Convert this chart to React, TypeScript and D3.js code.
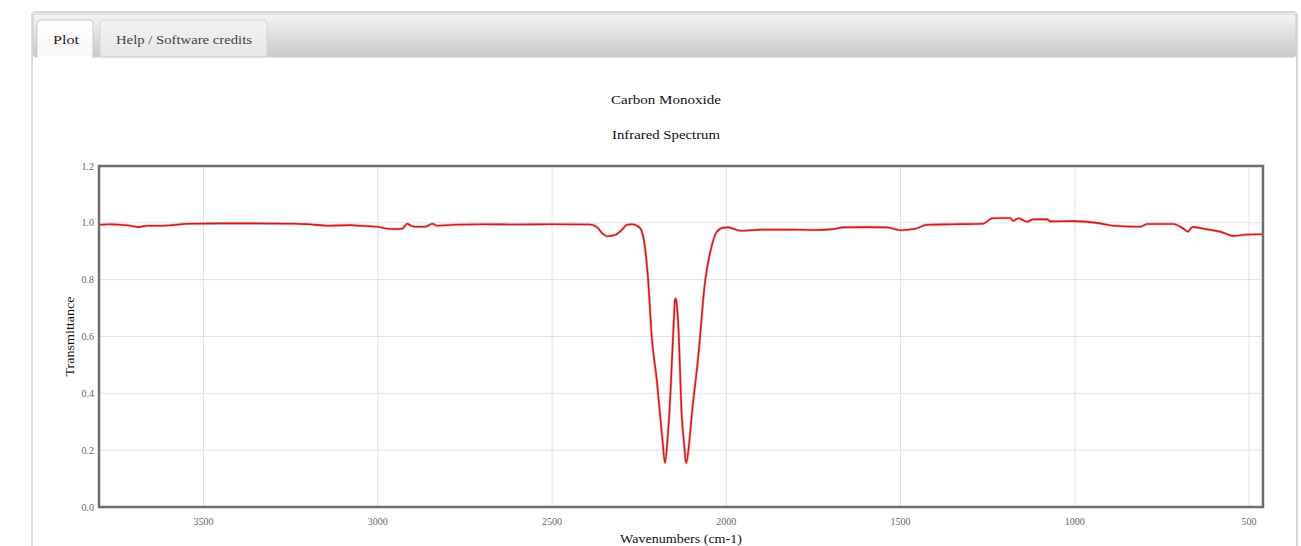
import React from "react";
import * as d3 from "d3";

const wavenumbers = [
  3800, 3770, 3740, 3710, 3688, 3660, 3625, 3590, 3545, 3450, 3350, 3237, 3200, 3143, 3080, 3051, 3000,
  2971, 2950, 2930, 2916, 2905, 2893, 2864, 2844, 2830, 2784, 2700, 2600, 2500, 2391, 2371, 2355, 2342,
  2320, 2300, 2285, 2270, 2250, 2240, 2233, 2224, 2214, 2199, 2190, 2182, 2176, 2168, 2161, 2152, 2147,
  2145, 2141, 2137, 2128, 2121, 2115, 2107, 2099, 2080, 2061, 2046, 2027, 2008, 1994, 1960, 1900, 1817,
  1750, 1693, 1665, 1600, 1538, 1501, 1458, 1424, 1350, 1263, 1237, 1200, 1185, 1177, 1162, 1137, 1119,
  1079, 1071, 1005, 927, 890, 812, 792, 718, 689, 675, 663, 620, 583, 545, 505, 460,
];
const transmittance = [
  0.993, 0.995, 0.993, 0.99, 0.985, 0.99, 0.99, 0.992, 0.997, 0.998, 0.998, 0.997, 0.995, 0.99, 0.992, 0.99, 0.986,
  0.979, 0.978, 0.979, 0.997, 0.99, 0.986, 0.986, 0.997, 0.99, 0.993, 0.995, 0.994, 0.995, 0.994, 0.985, 0.962, 0.953,
  0.957, 0.975, 0.993, 0.995, 0.985, 0.96, 0.911, 0.793, 0.6, 0.441, 0.324, 0.22, 0.155, 0.25, 0.383, 0.62, 0.728,
  0.734, 0.7, 0.62, 0.324, 0.22, 0.154, 0.22, 0.324, 0.535, 0.793, 0.898, 0.969, 0.983, 0.984, 0.972, 0.976, 0.976,
  0.975, 0.978, 0.984, 0.985, 0.984, 0.974, 0.979, 0.993, 0.995, 0.997, 1.016, 1.017, 1.017, 1.007, 1.016, 1.004, 1.012,
  1.012, 1.005, 1.006, 0.998, 0.99, 0.986, 0.996, 0.996, 0.98, 0.969, 0.985, 0.977, 0.969, 0.954, 0.959, 0.96,
];
const xTicks = [3500, 3000, 2500, 2000, 1500, 1000, 500];
const yTicks = [0.0, 0.2, 0.4, 0.6, 0.8, 1.0, 1.2];
const titleLine1 = "Carbon Monoxide";
const titleLine2 = "Infrared Spectrum";
const xTitle = "Wavenumbers (cm-1)";
const yTitle = "Transmittance";
const tabs = ["Plot", "Help / Software credits"];

const W = 1301;
const H = 546;
const plot = { left: 99, right: 1263, top: 166, bottom: 507 };
const serif = "'Liberation Serif', 'DejaVu Serif', serif";

export default function App() {
  const x = d3.scaleLinear().domain([3800, 460]).range([plot.left, plot.right]);
  const y = d3.scaleLinear().domain([0, 1.2]).range([plot.bottom, plot.top]);
  const data = wavenumbers.map((w, i) => [w, transmittance[i]] as [number, number]);
  const line = d3
    .line<[number, number]>()
    .x((d) => x(d[0]))
    .y((d) => y(d[1]))
    .curve(d3.curveMonotoneX);
  const sorted = [...data].sort((a, b) => a[0] - b[0]);
  const path = line(sorted) || "";

  return (
    <div style={{ position: "absolute", left: 0, top: 0, width: W, height: H, background: "#fff" }}>
      <svg width={W} height={H} style={{ display: "block" }}>
        <defs>
          <linearGradient id="hdr" x1="0" y1="0" x2="0" y2="1">
            <stop offset="0" stopColor="#f4f4f4" />
            <stop offset="1" stopColor="#c9c9c9" />
          </linearGradient>
          <linearGradient id="tabA" x1="0" y1="0" x2="0" y2="1">
            <stop offset="0" stopColor="#ffffff" />
            <stop offset="1" stopColor="#f7f7f7" />
          </linearGradient>
          <linearGradient id="tabB" x1="0" y1="0" x2="0" y2="1">
            <stop offset="0" stopColor="#f3f3f3" />
            <stop offset="1" stopColor="#e6e6e6" />
          </linearGradient>
        </defs>
        {/* outer panel */}
        <rect x={32} y={12} width={1265} height={560} rx={4} fill="#fff" stroke="#d9d9d9" strokeWidth={2} />
        <rect x={33} y={14} width={1263} height={43} rx={3} fill="url(#hdr)" stroke="#cfcfcf" strokeWidth={1} />
        {/* tabs */}
        <path d="M37,57 L37,24 Q37,20 41,20 L89,20 Q93,20 93,24 L93,58" fill="url(#tabA)" stroke="#c8c8c8" strokeWidth={1} />
        <rect x={37.5} y={56} width={55} height={4} fill="#fff" />
        <path d="M100,57 L100,24 Q100,20 104,20 L263,20 Q267,20 267,24 L267,57 Z" fill="url(#tabB)" stroke="#d6d6d6" strokeWidth={1} />
        <text x={53} y={44} fontFamily={serif} fontSize={13} fill="#222" textLength={26} lengthAdjust="spacingAndGlyphs">{tabs[0]}</text>
        <text x={116} y={44} fontFamily={serif} fontSize={13} fill="#444" textLength={136} lengthAdjust="spacingAndGlyphs">{tabs[1]}</text>

        {/* titles */}
        <text x={611} y={104} fontFamily={serif} fontSize={13} fill="#111" textLength={110} lengthAdjust="spacingAndGlyphs">{titleLine1}</text>
        <text x={612} y={139} fontFamily={serif} fontSize={13} fill="#111" textLength={108} lengthAdjust="spacingAndGlyphs">{titleLine2}</text>

        {/* grid */}
        {xTicks.map((t) => (
          <line key={"gx" + t} x1={x(t)} x2={x(t)} y1={plot.top} y2={plot.bottom} stroke="#e2e2e2" strokeWidth={1} />
        ))}
        {yTicks.map((t) => (
          <line key={"gy" + t} x1={plot.left} x2={plot.right} y1={y(t)} y2={y(t)} stroke="#e2e2e2" strokeWidth={1} />
        ))}

        {/* data */}
        <clipPath id="clip">
          <rect x={plot.left} y={plot.top} width={plot.right - plot.left} height={plot.bottom - plot.top} />
        </clipPath>
        <path d={path} fill="none" stroke="#f08080" strokeWidth={3} strokeOpacity={0.45} clipPath="url(#clip)" />
        <path d={path} fill="none" stroke="#d01c1c" strokeWidth={1.6} clipPath="url(#clip)" />

        {/* border */}
        <rect
          x={plot.left}
          y={plot.top}
          width={plot.right - plot.left}
          height={plot.bottom - plot.top}
          fill="none"
          stroke="#6e6e6e"
          strokeWidth={2.5}
        />

        {/* y ticks */}
        {yTicks.map((t) => (
          <text key={"ty" + t} x={94} y={y(t) + 3.5} textAnchor="end" fontFamily={serif} fontSize={10} fill="#666">
            {t.toFixed(1)}
          </text>
        ))}
        {/* x ticks */}
        {xTicks.map((t) => (
          <text key={"tx" + t} x={x(t)} y={525} textAnchor="middle" fontFamily={serif} fontSize={10} fill="#666">
            {t}
          </text>
        ))}

        {/* axis titles */}
        <text x={620} y={543} fontFamily={serif} fontSize={13} fill="#111" textLength={122} lengthAdjust="spacingAndGlyphs">{xTitle}</text>
        <text
          transform={`translate(74,${(plot.top + plot.bottom) / 2}) rotate(-90)`}
          x={-40}
          fontFamily={serif}
          fontSize={13}
          fill="#111"
          textLength={80}
          lengthAdjust="spacingAndGlyphs"
        >
          {yTitle}
        </text>
      </svg>
    </div>
  );
}
